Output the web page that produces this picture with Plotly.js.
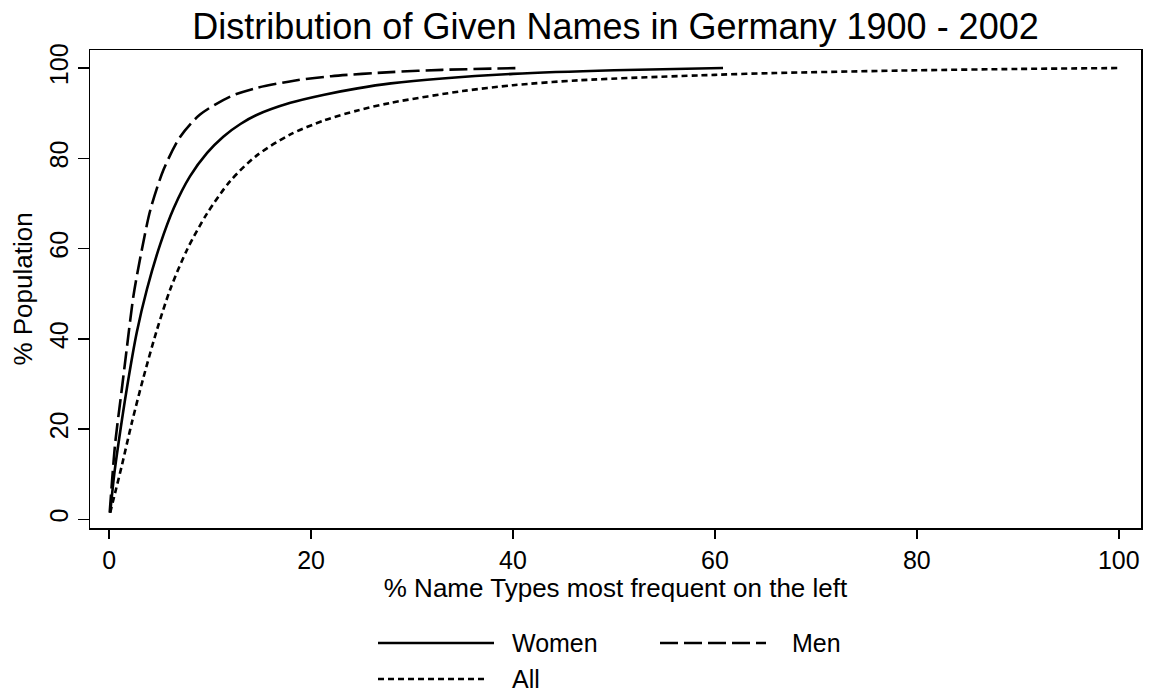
<!DOCTYPE html>
<html>
<head>
<meta charset="utf-8">
<script src="https://cdn.plot.ly/plotly-3.0.1.min.js"></script>
<style>html,body{margin:0;padding:0;background:#fff;}#chart{width:1151px;height:695px;}</style>
</head>
<body>
<div id="chart"></div>
<script>
// % name types (most frequent on the left) vs cumulative % population
const womenX = [0.1, 0.5, 0.93, 1.75, 2.74, 3.74, 5.06, 6.4, 8.0, 9.7, 11.3, 13.0, 14.6, 17.95, 21.3, 24.6, 27.9, 33.0, 40.0, 50.0, 60.8];
const womenY = [1.5, 10.0, 17.0, 29.0, 41.5, 51.0, 61.0, 69.0, 76.0, 81.2, 84.8, 87.6, 89.6, 92.3, 94.1, 95.5, 96.6, 97.7, 98.7, 99.5, 100];

const menX = [0.05, 0.3, 0.6, 1.26, 1.75, 2.41, 3.24, 4.07, 5.39, 7.04, 9.0, 12.0, 14.6, 18.3, 22.0, 27.9, 33.0, 40.8];
const menY = [1.5, 9.0, 17.0, 29.0, 38.0, 49.6, 59.8, 68.5, 77.5, 84.8, 89.7, 93.7, 95.6, 97.2, 98.2, 99.1, 99.6, 100];

const allX = [0.1, 0.6, 1.26, 2.25, 3.4, 4.73, 6.05, 7.7, 9.7, 12.0, 14.6, 17.95, 21.3, 24.6, 27.9, 35.0, 40.0, 46.6, 60.0, 66.0, 80.0, 90.0, 100.0];
const allY = [1.5, 6.0, 12.0, 21.5, 31.5, 42.0, 51.0, 59.7, 67.8, 75.0, 80.6, 85.3, 88.4, 90.6, 92.3, 94.9, 96.2, 97.3, 98.5, 98.9, 99.5, 99.8, 100];

const xTicks = [0, 20, 40, 60, 80, 100];
const yTicks = [0, 20, 40, 60, 80, 100];
const seriesNames = ['Women', 'Men', 'All'];

const FONT = 'Arial, "Liberation Sans", Helvetica, sans-serif';
const styles = {
  Women: {color: '#000', width: 2.6, dash: 'solid'},
  Men: {color: '#000', width: 2.6, dash: '18px,6px'},
  All: {color: '#000', width: 2.6, dash: '6px,4px'}
};

const data = [
  {x: womenX, y: womenY, name: seriesNames[0], type: 'scatter', mode: 'lines', line: styles.Women, showlegend: false},
  {x: menX, y: menY, name: seriesNames[1], type: 'scatter', mode: 'lines', line: styles.Men, showlegend: false},
  {x: allX, y: allY, name: seriesNames[2], type: 'scatter', mode: 'lines', line: styles.All, showlegend: false}
];
data.forEach(d => { d.line = Object.assign({}, d.line, {shape: 'spline', smoothing: 0.8}); });

// manual legend (Stata style: long line samples, two columns)
const plotL = 90, plotR = 1141, plotT = 50, plotB = 528;
const px2x = p => (p - plotL) / (plotR - plotL);
const px2y = p => (plotB - p) / (plotB - plotT);
const legendItems = [
  {name: seriesNames[0], x0: 378, x1: 494, tx: 510, py: 643, st: styles.Women},
  {name: seriesNames[1], x0: 660, x1: 766, tx: 790, py: 643, st: styles.Men},
  {name: seriesNames[2], x0: 378, x1: 488, tx: 510, py: 679, st: styles.All}
];
const shapes = legendItems.map(it => ({
  type: 'line', xref: 'paper', yref: 'paper',
  x0: px2x(it.x0), x1: px2x(it.x1), y0: px2y(it.py), y1: px2y(it.py),
  line: {color: it.st.color, width: it.st.width, dash: it.st.dash}
}));
const annotations = legendItems.map(it => ({
  xref: 'paper', yref: 'paper', x: px2x(it.tx), y: px2y(it.py),
  xanchor: 'left', yanchor: 'middle', showarrow: false,
  text: it.name, font: {family: FONT, size: 25, color: '#000'}
}));

const layout = {
  width: 1151, height: 695,
  paper_bgcolor: '#fff', plot_bgcolor: '#fff',
  margin: {l: plotL, r: 1151 - plotR, t: plotT, b: 695 - plotB, pad: 0},
  font: {family: FONT, color: '#000'},
  title: {text: 'Distribution of Given Names in Germany 1900 - 2002', font: {family: FONT, size: 36, color: '#000'},
          x: 0.5, xref: 'paper', xanchor: 'center', y: 1, yref: 'paper', yanchor: 'bottom', pad: {b: 11}},
  xaxis: {
    range: [-1.9, 102.2], tickvals: xTicks, ticktext: xTicks.map(String),
    ticks: 'outside', ticklen: 9, tickwidth: 1.5, tickcolor: '#000',
    showgrid: false, zeroline: false, showline: true, mirror: true, linecolor: '#000', linewidth: 1.5,
    tickfont: {family: FONT, size: 25, color: '#000'},
    title: {text: '% Name Types most frequent on the left', font: {family: FONT, size: 26, color: '#000'}, standoff: 0}
  },
  yaxis: {
    range: [-1.9, 104], tickvals: yTicks, ticktext: yTicks.map(String), tickangle: -90,
    ticks: 'outside', ticklen: 11, tickwidth: 1.5, tickcolor: '#000',
    showgrid: false, zeroline: false, showline: true, mirror: true, linecolor: '#000', linewidth: 1.5,
    tickfont: {family: FONT, size: 25, color: '#000'},
    title: {text: '% Population', font: {family: FONT, size: 26, color: '#000'}, standoff: 4}
  },
  shapes: shapes,
  annotations: annotations,
  showlegend: false
};

Plotly.newPlot('chart', data, layout, {displayModeBar: false, staticPlot: true});
</script>
</body>
</html>
